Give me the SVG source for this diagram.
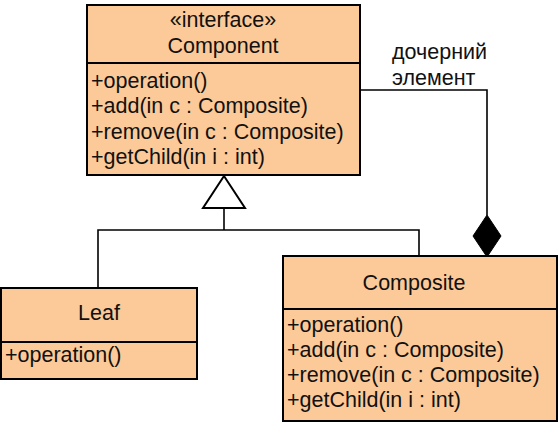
<svg xmlns="http://www.w3.org/2000/svg" width="560" height="423" viewBox="0 0 560 423">
<style>
.box{fill:#FCCA98;stroke:#000;stroke-width:2}
.div{stroke:#000;stroke-width:2}
text{font-family:"Liberation Sans",Arial,sans-serif;font-size:21.5px;fill:#111}
.c{text-anchor:middle}
.ln{fill:none;stroke:#000;stroke-width:1.6}
</style>
<g id="component">
<rect class="box" x="87" y="5" width="273" height="170"/>
<line class="div" x1="87" y1="63" x2="360" y2="63"/>
<text class="c" x="223" y="27">«interface»</text>
<text class="c" x="223" y="53">Component</text>
<text x="91" y="88">+operation()</text>
<text x="91" y="113">+add(in c : Composite)</text>
<text x="91" y="139">+remove(in c : Composite)</text>
<text x="91" y="164">+getChild(in i : int)</text>
</g>
<g id="leaf">
<rect class="box" x="1" y="288" width="196" height="91"/>
<line class="div" x1="1" y1="342" x2="197" y2="342"/>
<text class="c" x="99" y="320">Leaf</text>
<text x="5" y="362">+operation()</text>
</g>
<g id="composite">
<rect class="box" x="283" y="256" width="274" height="165"/>
<line class="div" x1="283" y1="309" x2="557" y2="309"/>
<text class="c" x="414" y="290">Composite</text>
<text x="287" y="332">+operation()</text>
<text x="287" y="357">+add(in c : Composite)</text>
<text x="287" y="382">+remove(in c : Composite)</text>
<text x="287" y="407">+getChild(in i : int)</text>
</g>
<g id="connectors">
<polyline class="ln" points="98,288 98,230 419,230 419,256"/>
<line class="ln" x1="224" y1="230" x2="224" y2="208"/>
<polygon points="224,176 203,208 245,208" fill="#fff" stroke="#000" stroke-width="2"/>
<polyline class="ln" points="360,90 487,90 487,215"/>
<polygon points="487,215 501,236 487,257 473,236" fill="#000" stroke="#000" stroke-width="1"/>
<text x="392" y="59">дочерний</text>
<text x="392" y="85">элемент</text>
</g>
</svg>
